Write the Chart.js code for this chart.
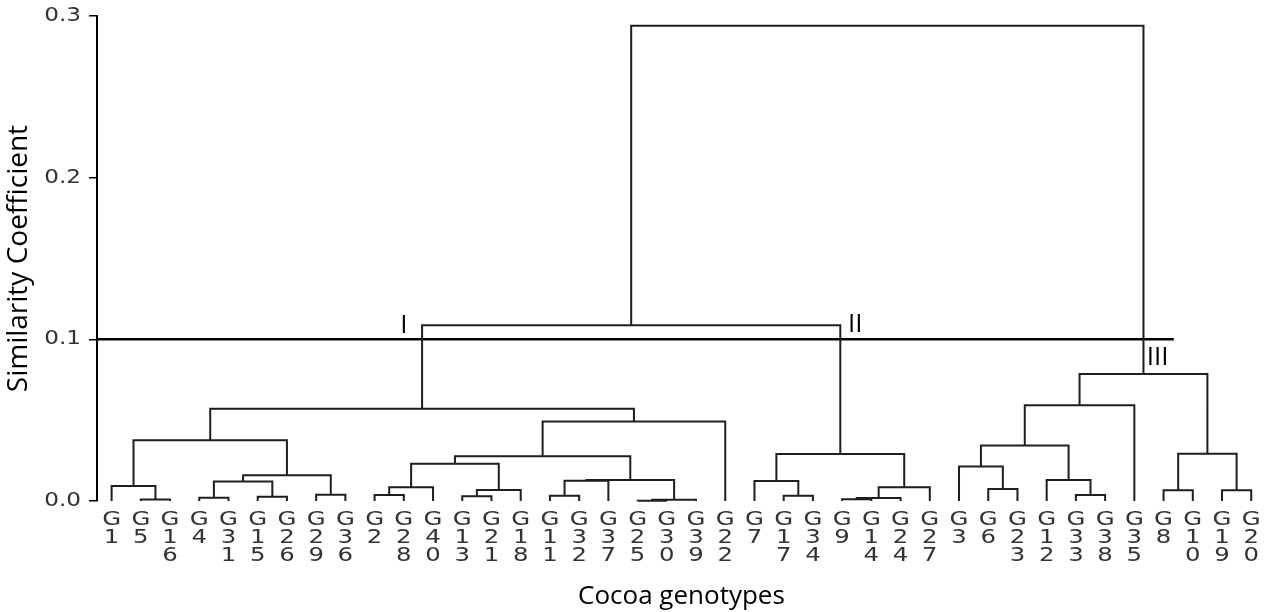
<!DOCTYPE html>
<html><head><meta charset="utf-8">
<script src="https://cdn.jsdelivr.net/npm/chart.js@4"></script>
<style>html,body{margin:0;padding:0;background:#fff;}#wrap{width:1269px;height:612px;}</style>
</head><body><div id="wrap"><canvas id="c" width="1269" height="612"></canvas></div>
<script>
// Leaf order (left to right)
const leafLabels = ['G1','G5','G16','G4','G31','G15','G26','G29','G36','G2','G28','G40','G13','G21','G18','G11','G32','G37','G25','G30','G39','G22','G7','G17','G34','G9','G14','G24','G27','G3','G6','G23','G12','G33','G38','G35','G8','G10','G19','G20'];
// Merges: [child A, child B, height]; ids < 40 are leaves, 40+k is the k-th merge
const mergeA = [1, 0, 3, 5, 42, 7, 44, 41, 9, 48, 12, 50, 49, 15, 53, 18, 55, 54, 52, 58, 47, 23, 22, 25, 63, 64, 62, 60, 30, 29, 33, 32, 69, 72, 36, 38, 74, 73, 67];
const mergeB = [2, 40, 4, 6, 43, 8, 45, 46, 10, 11, 13, 14, 51, 16, 17, 19, 20, 56, 57, 21, 59, 24, 61, 26, 27, 28, 65, 66, 31, 68, 34, 70, 71, 35, 37, 39, 75, 76, 77];
const mergeHeight = [0.0010, 0.0093, 0.0020, 0.0027, 0.0120, 0.0039, 0.0159, 0.0376, 0.0037, 0.0085, 0.0029, 0.0068, 0.0231, 0.0033, 0.0126, 0.0002, 0.0008, 0.0130, 0.0277, 0.0492, 0.0570, 0.0033, 0.0124, 0.0011, 0.0019, 0.0085, 0.0290, 0.1087, 0.0074, 0.0213, 0.0037, 0.0130, 0.0343, 0.0593, 0.0066, 0.0066, 0.0293, 0.0785, 0.2940];
const yTicks = [0, 0.1, 0.2, 0.3];
const cutHeight = 0.1;
const cutFrom = -0.5, cutTo = 36.35;
const clusterNames = ['I', 'II', 'III'];
const clusterX = [10.0, 25.45, 35.8];
const clusterY = [0.1085, 0.109, 0.0887];

// build node positions
const nodeX = leafLabels.map((_, i) => i);
const nodeY = leafLabels.map(() => 0);
const datasets = [];
mergeA.forEach((a, k) => {
  const b = mergeB[k], h = mergeHeight[k];
  datasets.push({
    data: [{x: nodeX[a], y: nodeY[a]}, {x: nodeX[a], y: h}, {x: nodeX[b], y: h}, {x: nodeX[b], y: nodeY[b]}],
    borderColor: '#1e1e1e', borderWidth: 2, pointRadius: 0, tension: 0, fill: false, clip: false
  });
  nodeX.push((nodeX[a] + nodeX[b]) / 2);
  nodeY.push(h);
});
datasets.push({
  data: [{x: cutFrom, y: cutHeight}, {x: cutTo, y: cutHeight}],
  borderColor: '#000', borderWidth: 2.5, pointRadius: 0, fill: false, clip: false
});

// draw the scale's own label items with a horizontal stretch (wide tick font of the original)
function stretchLabels(scale, sx) {
  const orig = scale.drawLabels.bind(scale);
  scale.drawLabels = function (area) {
    try {
      const ctx = this.ctx;
      const items = this.getLabelItems(area);
      for (const item of items) {
        const {label, font, textOffset, options} = item;
        const [tx, ty] = options.translation;
        ctx.save();
        ctx.translate(tx, ty);
        ctx.scale(sx, 1);
        ctx.font = font.string;
        ctx.fillStyle = options.color;
        ctx.textAlign = options.textAlign;
        ctx.textBaseline = options.textBaseline;
        const lines = Array.isArray(label) ? label : [label];
        lines.forEach((l, j) => ctx.fillText(l, 0, textOffset + j * font.lineHeight));
        ctx.restore();
      }
    } catch (e) { orig(area); }
  };
  scale._stretched = true;
}

const labelPlugin = {
  id: 'clusterLabels',
  afterLayout(chart) {
    ['x', 'y'].forEach(id => {
      const s = chart.scales[id];
      if (s && !s._stretched) stretchLabels(s, 1.22);
    });
  },
  afterDatasetsDraw(chart) {
    const {ctx, scales: {x, y}} = chart;
    ctx.save();
    ctx.font = '26px "Open Sans"';
    ctx.fillStyle = '#000';
    ctx.textAlign = 'center';
    ctx.textBaseline = 'middle';
    clusterNames.forEach((t, i) => ctx.fillText(t, x.getPixelForValue(clusterX[i]), y.getPixelForValue(clusterY[i])));
    ctx.restore();
  }
};

new Chart(document.getElementById('c'), {
  type: 'line',
  data: {datasets},
  plugins: [labelPlugin],
  options: {
    responsive: false, animation: false, devicePixelRatio: 1,
    layout: {padding: {top: 16, right: 2, left: 0, bottom: 0}},
    plugins: {legend: {display: false}, tooltip: {enabled: false}},
    scales: {
      x: {
        type: 'linear', min: -0.5, max: 39.5,
        afterBuildTicks: axis => { axis.ticks = leafLabels.map((_, i) => ({value: i})); },
        afterFit: s => { s.height = 111; },
        ticks: {autoSkip: false, maxRotation: 0, minRotation: 0, padding: 10, color: '#333',
          font: {family: 'DejaVu Sans', size: 20, lineHeight: 0.9},
          callback: (v, i) => leafLabels[i].split('')},
        grid: {display: false, drawTicks: false}, border: {display: false},
        title: {display: true, text: 'Cocoa genotypes', color: '#000', font: {family: 'Open Sans', size: 26}, padding: {top: 0, bottom: 0}}
      },
      y: {
        type: 'linear', min: 0, max: 0.3,
        afterBuildTicks: axis => { axis.ticks = yTicks.map(v => ({value: v})); },
        afterFit: s => { s.width = 97; },
        ticks: {color: '#333', font: {family: 'DejaVu Sans', size: 19, lineHeight: 0.85}, padding: 8, callback: v => v.toFixed(1)},
        grid: {drawOnChartArea: false, drawTicks: true, tickLength: 8, color: '#000', lineWidth: 1.5},
        border: {display: true, color: '#000', width: 2},
        title: {display: true, text: 'Similarity Coefficient', color: '#000', font: {family: 'Open Sans', size: 28}, padding: {top: 2, bottom: 0}}
      }
    }
  }
});
</script></body></html>
